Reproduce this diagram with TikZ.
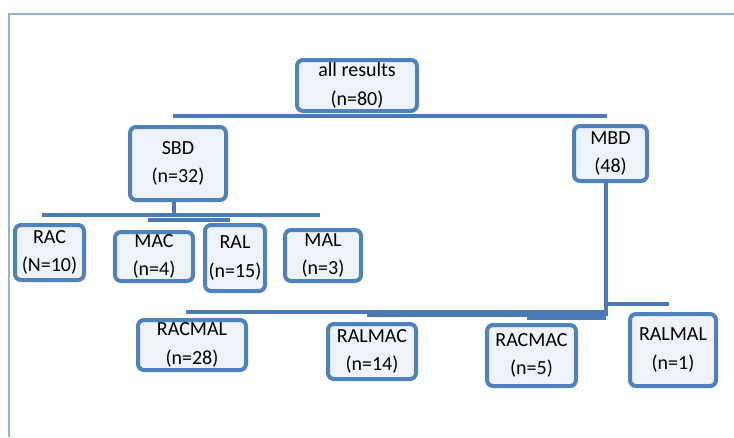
\documentclass[tikz,border=0pt]{standalone}
\usepackage{fontspec}
\setmainfont{Carlito}
\definecolor{boxline}{HTML}{4F81BD}
\definecolor{boxfill}{HTML}{EEF2F9}
\definecolor{connline}{HTML}{4A7BB7}
\definecolor{frameline}{HTML}{95B3D7}
\begin{document}
\begin{tikzpicture}[x=0.75pt,y=-0.75pt,
  bx/.style n args={2}{draw=boxline, fill=boxfill, line width=3pt,
    rounded corners=4.5pt, inner sep=0pt, align=center,
    minimum width={(#1-4)*0.75pt}, minimum height={(#2-4)*0.75pt},
    font=\fontsize{15}{21.5}\selectfont},
  conn/.style={draw=connline, line width=2.3pt},
  frm/.style={draw=frameline, line width=1.2pt}]
\useasboundingbox (0,0) rectangle (734,437);
% frame
\coordinate (f1) at (9,437);
\coordinate (f2) at (9,14);
\coordinate (f3) at (734,14);
\draw[frm] (f1) -- (f2) -- (f3);

% boxes
\node[bx={124}{55}] (all) at (357,85.5) {all results\\(n=80)};
\node[bx={100}{77}] (sbd) at (178,163.5) {SBD\\(n=32)};
\node[bx={77}{59}] (mbd) at (610.5,153.5) {MBD\\(48)};
\node[bx={73}{59}] (rac) at (49.5,252.5) {RAC\\(N=10)};
\node[bx={82}{53}] (mac) at (154,256.5) {MAC\\(n=4)};
\node[bx={64}{70}] (ral) at (235,258) {RAL\\(n=15)};
\node[bx={80}{55}] (mal) at (323,255.5) {MAL\\(n=3)};
\node[bx={112}{54}] (racmal) at (192,345) {RACMAL\\(n=28)};
\node[bx={92}{59}] (ralmac) at (372,351.5) {RALMAC\\(n=14)};
\node[bx={93}{65}] (racmac) at (531.5,355.5) {RACMAC\\(n=5)};
\node[bx={90}{76}] (ralmal) at (673,350) {RALMAL\\(n=1)};

% top level connector
\coordinate (t1) at (173,116);
\coordinate (t2) at (607,116);
\draw[conn] (t1) -- (t2);

% SBD branch
\coordinate (s0) at (174,216);
\coordinate (s1) at (42,215);
\coordinate (s2) at (320,215);
\coordinate (s3) at (148,220);
\coordinate (s4) at (230,220);
\draw[conn] (sbd.south -| s0) -- (s0);
\draw[conn] (s1) -- (s2);
\draw[conn] (s3) -- (s4);

% MBD branch
\coordinate (m0) at (606,316);
\coordinate (m1) at (186,312);
\coordinate (m2) at (606,312);
\coordinate (m3) at (367,315);
\coordinate (m4) at (527,318);
\coordinate (m5) at (606,304);
\coordinate (m6) at (669,304);
\draw[conn] (mbd.south -| m0) -- (m0);
\draw[conn] (m1) -- (m2);
\draw[conn] (m3) -- (m3 -| m0);
\draw[conn] (m4) -- (m4 -| m0);
\draw[conn] (m5) -- (m6);
\end{tikzpicture}
\end{document}
